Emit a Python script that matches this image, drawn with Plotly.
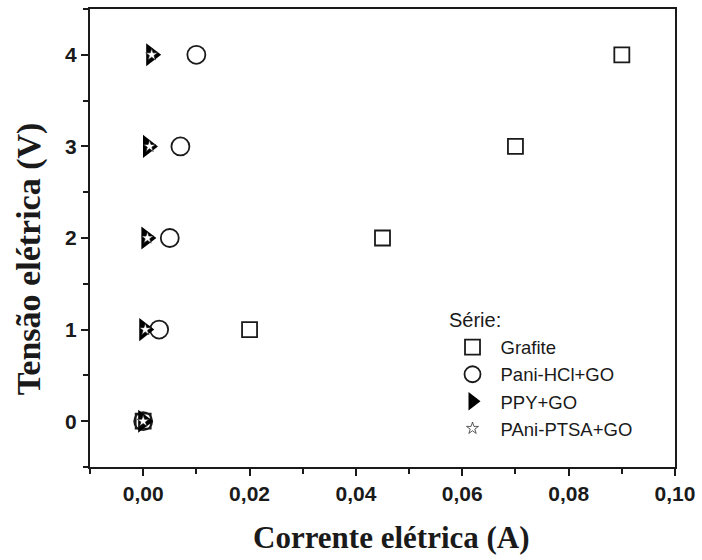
import plotly.graph_objects as go

voltage = [0, 1, 2, 3, 4]
grafite = [0.0, 0.020, 0.045, 0.070, 0.090]
pani_hcl = [0.0, 0.003, 0.005, 0.007, 0.010]
ppy = [0.0, 0.0002, 0.0006, 0.0009, 0.0015]
pani_ptsa = [0.0, 0.0004, 0.0008, 0.0012, 0.0016]

x_ticks = [0.0, 0.02, 0.04, 0.06, 0.08, 0.10]
x_labels = ["0,00", "0,02", "0,04", "0,06", "0,08", "0,10"]
y_ticks = [0, 1, 2, 3, 4]

INK = "#1a1a1a"
SANS = "Liberation Sans, Arial"
SERIF = "Liberation Serif, Times New Roman"

fig = go.Figure()
fig.add_trace(go.Scatter(x=grafite, y=voltage, mode="markers", name="Grafite",
    marker=dict(symbol="square-open", size=15, color=INK, line=dict(width=1.8, color=INK))))
fig.add_trace(go.Scatter(x=pani_hcl, y=voltage, mode="markers", name="Pani-HCl+GO",
    marker=dict(symbol="circle-open", size=18, color=INK, line=dict(width=1.8, color=INK))))
fig.add_trace(go.Scatter(x=ppy, y=voltage, mode="markers", name="PPY+GO",
    marker=dict(symbol="triangle-right", size=20, color="black", line=dict(width=0))))
fig.add_trace(go.Scatter(x=pani_ptsa, y=voltage, mode="markers", name="PAni-PTSA+GO",
    marker=dict(symbol="star", size=9, color="white", line=dict(width=0.7, color=INK))))

axis_common = dict(showgrid=False, zeroline=False, showline=True, linecolor=INK, linewidth=2,
                   mirror=True, ticks="outside", tickcolor=INK, tickwidth=2, ticklen=7,
                   tickfont=dict(family=SANS, size=21, color=INK, weight="bold"))

fig.update_xaxes(range=[-0.01, 0.10], tickvals=x_ticks, ticktext=x_labels,
                 minor=dict(dtick=0.01, tick0=0, ticks="outside", ticklen=5, tickwidth=2, tickcolor=INK),
                 **axis_common)
fig.update_yaxes(range=[-0.5, 4.5], tickvals=y_ticks,
                 minor=dict(dtick=0.5, tick0=0, ticks="outside", ticklen=5, tickwidth=2, tickcolor=INK),
                 **axis_common)

# axis titles
fig.add_annotation(text="<b>Corrente elétrica (A)</b>", xref="paper", yref="paper",
                   x=0.516, y=-0.153, xanchor="center", yanchor="middle", showarrow=False,
                   font=dict(family=SERIF, size=31, color=INK))
fig.add_annotation(text="<b>Tensão elétrica (V)</b>", xref="paper", yref="paper",
                   x=-0.105, y=0.455, xanchor="center", yanchor="middle", showarrow=False,
                   textangle=-90, font=dict(family=SERIF, size=34, color=INK))

fig.add_annotation(text="Série:", xref="paper", yref="paper", x=0.6095, y=0.322,
                   xanchor="left", yanchor="middle", showarrow=False,
                   font=dict(family=SANS, size=20, color=INK))

fig.update_layout(
    width=702, height=560,
    margin=dict(l=90, r=23, t=7, b=93),
    paper_bgcolor="white", plot_bgcolor="white",
    legend=dict(font=dict(family=SANS, size=18.5, color=INK),
                x=0.606, y=0.302, xanchor="left", yanchor="top", bgcolor="rgba(0,0,0,0)",
                itemwidth=46, tracegroupgap=0),
)

fig.write_html("out.html")
